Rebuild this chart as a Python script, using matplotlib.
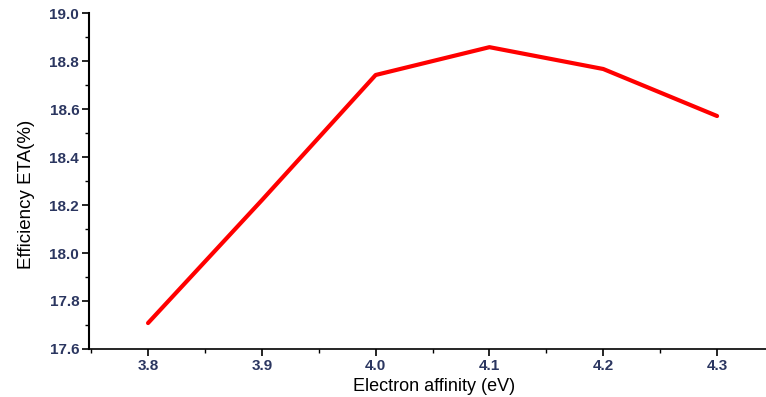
import matplotlib.pyplot as plt
from matplotlib.ticker import MultipleLocator

plt.rcParams['font.family'] = ['Liberation Sans', 'DejaVu Sans']

affinity = [3.8, 3.9, 4.0, 4.1, 4.2, 4.3]
efficiency = [17.708, 18.22, 18.742, 18.858, 18.767, 18.571]

fig = plt.figure(figsize=(7.66, 3.97), dpi=100)
ax = fig.add_axes([0.116, 0.121, 0.884, 0.846])

ax.plot(affinity, efficiency, color='#ff0000', linewidth=3.0, solid_capstyle='round')

ax.set_xlim(3.748, 4.343)
ax.set_ylim(17.6, 19.0)
ax.xaxis.set_major_locator(MultipleLocator(0.1))
ax.xaxis.set_minor_locator(MultipleLocator(0.05))
ax.yaxis.set_major_locator(MultipleLocator(0.2))
ax.yaxis.set_minor_locator(MultipleLocator(0.1))
ax.xaxis.set_major_formatter(plt.FormatStrFormatter('%.1f'))
ax.yaxis.set_major_formatter(plt.FormatStrFormatter('%.1f'))

ax.spines['top'].set_visible(False)
ax.spines['right'].set_visible(False)
ax.spines['left'].set_linewidth(1.5)
ax.spines['bottom'].set_linewidth(1.2)

ax.tick_params(which='major', direction='out', length=5, width=1.2,
               labelsize=11, labelcolor='#2b3660')
ax.tick_params(axis='y', which='major', pad=2)
ax.tick_params(axis='x', which='major', pad=2)
for lab in ax.get_xticklabels() + ax.get_yticklabels():
    lab.set_fontweight('bold')
ax.tick_params(which='minor', direction='out', length=3, width=1.0)

ax.set_xlabel('Electron affinity (eV)', fontsize=13)
ax.set_ylabel('Efficiency ETA(%)', fontsize=13.5)
ax.xaxis.set_label_coords(0.51, -0.085)
ax.yaxis.set_label_coords(-0.08, 0.46)

fig.savefig('out.png', dpi=100)
